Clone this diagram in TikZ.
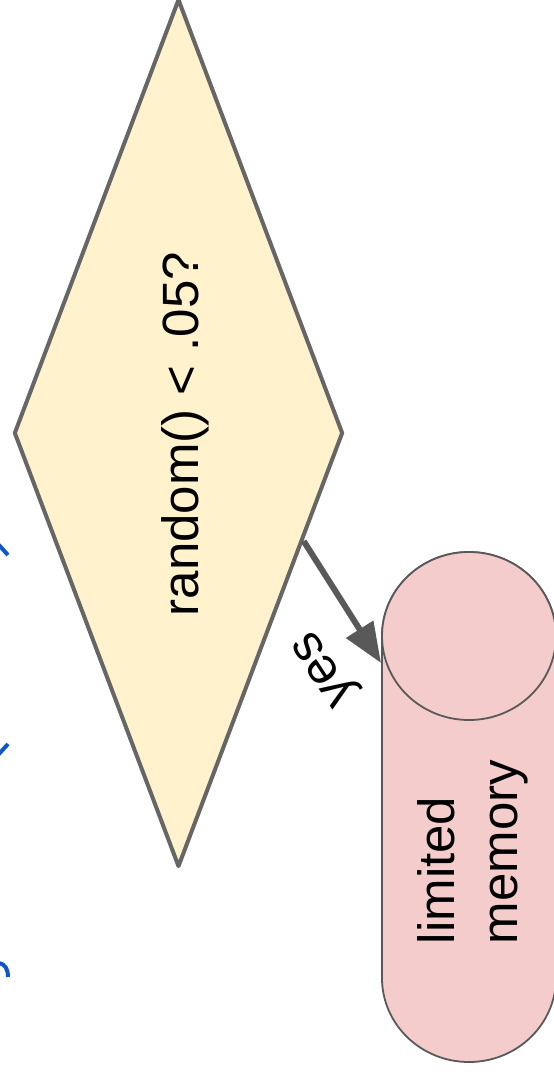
\documentclass[tikz,border=0pt]{standalone}
\usepackage{fontspec}
\setmainfont{Liberation Sans}
\usetikzlibrary{shapes.geometric,arrows.meta,calc}
\definecolor{decfill}{HTML}{FFF2CC}
\definecolor{decline}{HTML}{666666}
\definecolor{memfill}{HTML}{F4CCCC}
\definecolor{memline}{HTML}{595959}
\definecolor{arrline}{HTML}{595959}
\definecolor{markblue}{HTML}{1155CC}
\begin{document}
\begin{tikzpicture}[x=1pt,y=-1pt,
  bigtext/.style={font=\fontsize{51}{63}\selectfont, inner sep=0pt},
  decision/.style={diamond, draw=decline, fill=decfill, line width=4pt,
    line join=round, minimum width=329pt, minimum height=868pt,
    aspect=0.38, inner sep=0pt},
  store/.style={draw=memline, fill=memfill, line width=1.8pt},
  flow/.style={draw=arrline, line width=6pt,
    -{Triangle[length=40pt,width=31pt]}},
  blueline/.style={draw=markblue, line width=4pt}]
\useasboundingbox (0,0) rectangle (554,1076);

% decision diamond and its question
\node[decision] (d) at (178.5,433) {};
\node[bigtext, rotate=90] (q) at (185,434) {random() < .05?};

% storage cylinder: body with rounded bottom, then the top face
\draw[store] (382,636) -- (382,978)
  arc[start angle=180, end angle=0, x radius=87, y radius=84]
  -- (556,636)
  arc[start angle=0, end angle=-180, x radius=87, y radius=84] -- cycle;
\draw[store] (469,636) ellipse[x radius=87, y radius=84];
\node[bigtext, rotate=90, align=left] (mem) at (473,852) {limited\\memory};

% yes branch
\coordinate (tip) at (381,663);
\draw[flow] ($(d.east)!0.248!(d.south)$) -- (tip);
\node[bigtext, rotate=123.3] (yes) at (327,667) {yes};

% blue strokes entering from the left edge
\draw[blueline] (-2,544) -- (8,555);
\draw[blueline] (-2,755) -- (8,744);
\draw[blueline] (-1,963) .. controls (5,964) and (8,969) .. (8,977);
\end{tikzpicture}
\end{document}
